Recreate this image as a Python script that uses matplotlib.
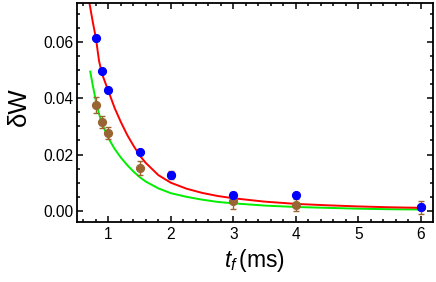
import matplotlib
matplotlib.use("Agg")
import matplotlib.pyplot as plt
from matplotlib.ticker import MultipleLocator, FormatStrFormatter

plt.rcParams['font.family'] = ['Liberation Sans', 'DejaVu Sans']
plt.rcParams['mathtext.fontset'] = 'custom'
plt.rcParams['mathtext.it'] = 'Liberation Sans:italic'
plt.rcParams['mathtext.rm'] = 'Liberation Sans'

# measured data
tf = [0.8, 0.9, 1.0, 1.5, 2.0, 3.0, 4.0, 6.0]
blue_y = [0.0613, 0.0496, 0.0428, 0.0210, 0.0126, 0.0055, 0.0055, 0.0013]
blue_err = [0.0010, 0.0008, 0.0008, 0.0008, 0.0009, 0.0010, 0.0010, 0.0010]
brown_y = [0.0375, 0.0315, 0.0276, 0.0152, 0.0128, 0.0036, 0.0022, 0.0013]
brown_err = [0.0028, 0.0020, 0.0020, 0.0024, 0.0015, 0.0030, 0.0022, 0.0024]

# curves
red_t = [0.69, 0.75, 0.80, 0.85, 0.90, 1.0, 1.1, 1.2, 1.3, 1.4, 1.5, 1.6, 1.8, 2.0,
         2.25, 2.5, 2.75, 3.0, 3.5, 4.0, 4.5, 5.0, 5.5, 6.0, 6.05]
red_y = [0.0745, 0.0670, 0.0613, 0.0532, 0.0485, 0.0425, 0.0365, 0.0315, 0.0270, 0.0232,
         0.0197, 0.0170, 0.0127, 0.0100, 0.0079, 0.0064, 0.0053, 0.0045, 0.0033, 0.0025,
         0.0020, 0.0016, 0.0013, 0.0011, 0.0011]
green_t = [0.71, 0.75, 0.80, 0.85, 0.90, 1.0, 1.1, 1.2, 1.3, 1.4, 1.5, 1.6, 1.8, 2.0,
           2.25, 2.5, 2.75, 3.0, 3.5, 4.0, 4.5, 5.0, 5.5, 6.0, 6.05]
green_y = [0.0494, 0.0445, 0.0390, 0.0345, 0.0308, 0.0258, 0.0220, 0.0189, 0.0163, 0.0140,
           0.0120, 0.0104, 0.0080, 0.0063, 0.0050, 0.0040, 0.0032, 0.0027, 0.0019, 0.0014,
           0.0011, 0.0008, 0.0006, 0.0005, 0.0005]

fig = plt.figure(figsize=(4.36, 2.82), dpi=100)
ax = fig.add_axes([0.177, 0.211, 0.815, 0.778])

ax.plot(green_t, green_y, color='#00ee00', lw=1.4, zorder=2)
ax.plot(red_t, red_y, color='#ff0000', lw=1.4, zorder=2)
ax.errorbar(tf, brown_y, yerr=brown_err, fmt='o', color='#996633', ms=5.6,
            elinewidth=1.0, capsize=2, capthick=1.0, zorder=3)
ax.errorbar(tf, blue_y, yerr=blue_err, fmt='o', color='#0000ff', ms=5.6,
            elinewidth=1.0, capsize=1.5, capthick=1.0, zorder=4)

ax.set_xlim(0.5, 6.19)
ax.set_ylim(-0.0041, 0.0737)
ax.xaxis.set_major_locator(MultipleLocator(1))
ax.xaxis.set_minor_locator(MultipleLocator(0.2))
ax.yaxis.set_major_locator(MultipleLocator(0.02))
ax.yaxis.set_minor_locator(MultipleLocator(0.005))
ax.yaxis.set_major_formatter(FormatStrFormatter('%.2f'))
ax.tick_params(which='both', direction='in', top=True, right=True, width=1.1,
               labelsize=11.2, colors='black')
ax.tick_params(which='major', length=4.5)
ax.tick_params(which='minor', length=2.2)
ax.tick_params(axis='y', pad=3)
for s in ax.spines.values():
    s.set_linewidth(1.3)

ax.set_xlabel(r'$t_f\,$(ms)', fontsize=16.5, labelpad=3)
ax.set_ylabel('δW', fontsize=18.5, labelpad=9)
ax.yaxis.set_label_coords(-0.13, 0.53)

fig.savefig('out.png', dpi=100)
